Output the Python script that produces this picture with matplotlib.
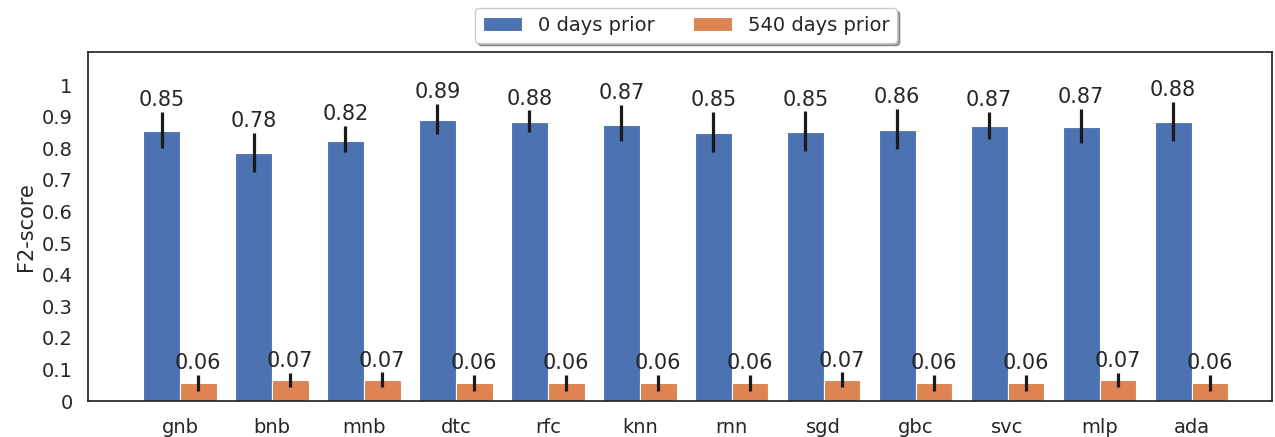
import matplotlib
matplotlib.use("Agg")
import matplotlib.pyplot as plt
import seaborn as sns
import numpy as np

sns.set_theme(style="white", context="notebook")

# classifiers on the x axis
models = ["gnb", "bnb", "mnb", "dtc", "rfc", "knn", "rnn", "sgd", "gbc", "svc", "mlp", "ada"]

# mean F2-score and error bar ends, 0 days prior
f2_0 = [0.854, 0.784, 0.824, 0.891, 0.884, 0.874, 0.850, 0.852, 0.859, 0.871, 0.869, 0.884]
lo_0 = [0.801, 0.725, 0.788, 0.846, 0.851, 0.822, 0.789, 0.791, 0.798, 0.831, 0.817, 0.824]
hi_0 = [0.916, 0.849, 0.870, 0.942, 0.920, 0.937, 0.916, 0.917, 0.924, 0.916, 0.926, 0.946]

# same for 540 days prior
f2_540 = [0.056, 0.066, 0.066, 0.056, 0.056, 0.056, 0.056, 0.066, 0.056, 0.056, 0.066, 0.056]
lo_540 = [0.033, 0.045, 0.045, 0.033, 0.033, 0.033, 0.033, 0.045, 0.033, 0.033, 0.045, 0.033]
hi_540 = [0.082, 0.090, 0.091, 0.082, 0.082, 0.082, 0.082, 0.091, 0.082, 0.082, 0.090, 0.082]

series = [("0 days prior", f2_0, lo_0, hi_0, "#4C72B0"),
          ("540 days prior", f2_540, lo_540, hi_540, "#DD8452")]

fig = plt.figure(figsize=(12.75, 4.37), dpi=100)
ax = fig.add_axes([0.069, 0.082, 0.929, 0.799])

x = np.arange(len(models))
width = 0.4

for i, (name, vals, lo, hi, col) in enumerate(series):
    pos = x + (i - 0.5) * width
    vals = np.array(vals)
    err = [vals - np.array(lo), np.array(hi) - vals]
    ax.bar(pos, vals, width, color=col, edgecolor="white", linewidth=0.8, label=name)
    ax.errorbar(pos, vals, yerr=err, fmt="none", ecolor="#1a1a1a", elinewidth=2.3, capsize=0)
    # value labels just above the error bars
    for p, v, h in zip(pos, vals, hi):
        ax.text(p, h + 0.006, f"{v:.2f}", ha="center", va="bottom", fontsize=15, color="#262626")

ax.set_xlim(-1.0, 11.88)
ax.set_ylim(0, 1.105)
ax.set_xticks(x)
ax.set_xticklabels(models, fontsize=14)
ax.set_yticks(np.arange(0, 1.01, 0.1))
ax.set_yticklabels([f"{t:g}" for t in np.round(np.arange(0, 1.01, 0.1), 1)], fontsize=14)
ax.tick_params(axis="y", pad=5)
ax.tick_params(axis="x", pad=6)
ax.set_ylabel("F2-score", fontsize=15)
for s in ax.spines.values():
    s.set_color("#262626")
    s.set_linewidth(1.25)

ax.legend(loc="lower center", bbox_to_anchor=(0.505, 1.015), ncol=2, fontsize=14,
          frameon=True, shadow=True, fancybox=True, borderaxespad=0.2)

fig.savefig("out.png", dpi=100)
